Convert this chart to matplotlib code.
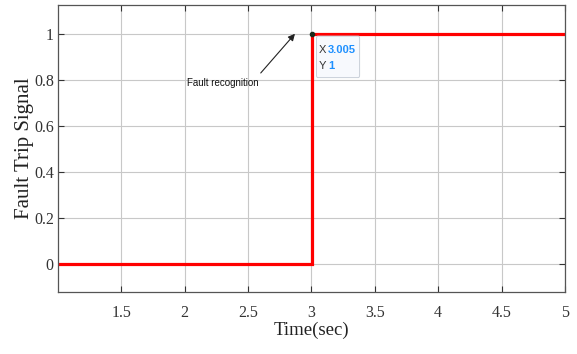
import numpy as np
import matplotlib.pyplot as plt
from matplotlib.patches import FancyBboxPatch

# trip signal samples
t = [1.0, 3.005, 3.005, 5.0]
trip = [0, 0, 1, 1]
tip_x = 3.005
tip_y = 1

xticks = [1.5, 2, 2.5, 3, 3.5, 4, 4.5, 5]
yticks = [0, 0.2, 0.4, 0.6, 0.8, 1]

plt.rcParams['font.family'] = ['Liberation Serif']

fig = plt.figure(figsize=(5.77, 3.54), dpi=100)
ax = fig.add_axes([0.1005, 0.175, 0.8785, 0.811])

ax.plot(t, trip, color='#ff0000', linewidth=2.3, solid_joinstyle='miter')
ax.plot([tip_x], [tip_y], 'o', color='#1a2a1a', markersize=3, zorder=5)

ax.set_xlim(1.0, 5.0)
ax.set_ylim(-0.12, 1.125)
ax.set_xticks(xticks)
ax.set_xticklabels(['1.5', '2', '2.5', '3', '3.5', '4', '4.5', '5'])
ax.set_yticks(yticks)
ax.set_yticklabels(['0', '0.2', '0.4', '0.6', '0.8', '1'])
ax.tick_params(axis='x', labelsize=11.5, colors='#333333', direction='in', length=4,
               top=True, pad=9)
ax.tick_params(axis='y', labelsize=11.5, colors='#333333', direction='in', length=4,
               right=True, pad=3)
ax.grid(True, color='#c8c8c8', linewidth=0.8)
for s in ax.spines.values():
    s.set_color('#555555')
    s.set_linewidth(0.9)

ax.set_xlabel('Time(sec)', fontsize=13.5, color='#222222', labelpad=1)
ax.set_ylabel('Fault Trip Signal', fontsize=15, color='#222222', labelpad=0)

# data tip box
tip_box = FancyBboxPatch((3.04, 0.81), 0.34, 0.18,
                         boxstyle='round,pad=0,rounding_size=0.01',
                         fc='#f7f9fd', ec='#c8cfd8', lw=0.7, zorder=6,
                         mutation_aspect=1.0)
ax.add_patch(tip_box)
tip_font = dict(fontsize=8, family='Liberation Sans', va='center', ha='left', zorder=7)
ax.text(3.06, 0.93, 'X', color='#333333', **tip_font)
ax.text(3.13, 0.93, '%.3f' % tip_x, color='#1e90ff', fontweight='bold', **tip_font)
ax.text(3.06, 0.86, 'Y', color='#333333', **tip_font)
ax.text(3.13, 0.86, '%d' % tip_y, color='#1e90ff', fontweight='bold', **tip_font)

# label and arrow pointing at the trip instant
ax.text(2.02, 0.785, 'Fault recognition', fontsize=7, family='Liberation Sans',
        color='#111111', ha='left', va='center')
ax.annotate('', xy=(2.87, 1.0), xytext=(2.6, 0.83),
            arrowprops=dict(arrowstyle='-|>', color='#222222', lw=0.8,
                            shrinkA=0, shrinkB=0, mutation_scale=10))

fig.savefig('out.png', dpi=100)
